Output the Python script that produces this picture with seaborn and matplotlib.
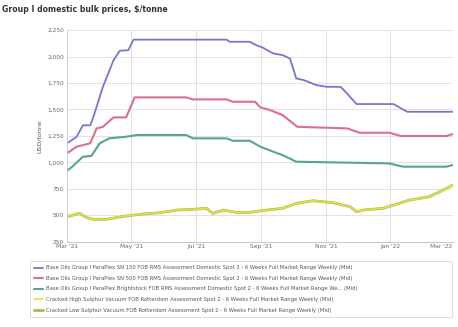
import pandas as pd
import matplotlib.pyplot as plt
import seaborn as sns

# --- Data --- #
sn150_dates = ['2021-03-01', '2021-03-10', '2021-03-16', '2021-03-23', '2021-03-26', '2021-04-04',
               '2021-04-14', '2021-04-20', '2021-04-28', '2021-05-03', '2021-07-30', '2021-08-02',
               '2021-08-21', '2021-08-27', '2021-09-02', '2021-09-12', '2021-09-21', '2021-09-28',
               '2021-10-04', '2021-10-11', '2021-10-23', '2021-11-02', '2021-11-15', '2021-11-21',
               '2021-11-30', '2022-01-04', '2022-01-17', '2022-03-01']
sn150_vals = [1180, 1240, 1350, 1350, 1430, 1715, 1965, 2055, 2060, 2160, 2160, 2140,
              2140, 2108, 2086, 2030, 2014, 1982, 1793, 1778, 1730, 1714, 1714, 1652,
              1551, 1551, 1478, 1478]

sn500_dates = ['2021-03-01', '2021-03-10', '2021-03-23', '2021-03-29', '2021-04-04', '2021-04-14',
               '2021-04-26', '2021-05-04', '2021-06-22', '2021-06-28', '2021-07-30', '2021-08-05',
               '2021-08-26', '2021-08-31', '2021-09-09', '2021-09-21', '2021-10-05', '2021-11-21',
               '2021-12-03', '2021-12-31', '2022-01-11', '2022-02-23', '2022-03-01']
sn500_vals = [1085, 1148, 1180, 1321, 1336, 1425, 1425, 1614, 1614, 1595, 1595, 1573,
              1573, 1520, 1495, 1447, 1336, 1321, 1280, 1280, 1249, 1249, 1267]

bs_dates = ['2021-03-01', '2021-03-06', '2021-03-16', '2021-03-24', '2021-04-01', '2021-04-10',
            '2021-04-26', '2021-05-06', '2021-06-22', '2021-06-28', '2021-07-30', '2021-08-05',
            '2021-08-21', '2021-08-31', '2021-09-12', '2021-09-21', '2021-10-04', '2021-12-31',
            '2022-01-13', '2022-02-23', '2022-03-01']
bs_vals = [921, 959, 1053, 1060, 1180, 1227, 1242, 1258, 1258, 1227, 1227, 1204,
           1204, 1148, 1101, 1069, 1006, 990, 959, 959, 975]

hs_dates = ['2021-03-01', '2021-03-13', '2021-03-19', '2021-03-26', '2021-04-07', '2021-04-26',
            '2021-05-12', '2021-05-28', '2021-06-13', '2021-06-28', '2021-07-11', '2021-07-17',
            '2021-07-27', '2021-08-08', '2021-08-18', '2021-09-06', '2021-09-21', '2021-10-04',
            '2021-10-20', '2021-11-08', '2021-11-24', '2021-11-30', '2021-12-06', '2021-12-25',
            '2022-01-19', '2022-02-07', '2022-02-20', '2022-03-01']
hs_vals = [486, 518, 480, 461, 461, 493, 512, 524, 549, 556, 565, 518,
           549, 527, 524, 549, 565, 612, 637, 618, 580, 533, 549, 565,
           643, 675, 738, 785]

# low sulphur line sits right under the high sulphur one
ls_dates = hs_dates
ls_vals = [486, 518, 480, 461, 461, 493, 512, 524, 549, 556, 565, 518,
           549, 527, 524, 549, 565, 612, 637, 618, 580, 533, 549, 565,
           643, 675, 738, 785]

series_names = [
    'Base Oils Group I ParaPlex SN 150 FOB RMS Assessment Domestic Spot 2 - 6 Weeks Full Market Range Weekly (Mid)',
    'Base Oils Group I ParaPlex SN 500 FOB RMS Assessment Domestic Spot 2 - 6 Weeks Full Market Range Weekly (Mid)',
    'Base Oils Group I ParaPlex Brightstock FOB RMS Assessment Domestic Spot 2 - 6 Weeks Full Market Range We... (Mid)',
    'Cracked High Sulphur Vacuum FOB Rotterdam Assessment Spot 2 - 6 Weeks Full Market Range Weekly (Mid)',
    'Cracked Low Sulphur Vacuum FOB Rotterdam Assessment Spot 2 - 6 Weeks Full Market Range Weekly (Mid)',
]
colors = ['#7476d6', '#d9708e', '#55a58f', '#dfe04c', '#a9bb45']

x_ticks = ['2021-03-01', '2021-05-01', '2021-07-01', '2021-09-01', '2021-11-01', '2022-01-01', '2022-03-01']
x_labels = ["Mar '21", "May '21", "Jul '21", "Sep '21", "Nov '21", "Jan '22", "Mar '22"]
y_ticks = [250, 500, 750, 1000, 1250, 1500, 1750, 2000, 2250]

# --- Build long frame --- #
parts = []
for name, d, v in zip(series_names,
                      [sn150_dates, sn500_dates, bs_dates, hs_dates, ls_dates],
                      [sn150_vals, sn500_vals, bs_vals, hs_vals, ls_vals]):
    parts.append(pd.DataFrame({'date': pd.to_datetime(d), 'price': v, 'series': name}))
df = pd.concat(parts, ignore_index=True)

# --- Plot --- #
sns.set_style('whitegrid')
plt.rcParams['font.family'] = ['DejaVu Sans']

fig = plt.figure(figsize=(4.58, 3.27), dpi=100)
ax = fig.add_axes([0.1463, 0.2609, 0.842, 0.647])

# draw low sulphur first so the yellow one sits on top
order = [0, 1, 2, 4, 3]
widths = {0: 1.3, 1: 1.5, 2: 1.5, 3: 1.2, 4: 2.0}
for i in order:
    sub = df[df['series'] == series_names[i]]
    sns.lineplot(x='date', y='price', data=sub, ax=ax, color=colors[i],
                 linewidth=widths[i], errorbar=None, label=series_names[i], legend=False)

ax.set_xlim(pd.Timestamp('2021-03-01'), pd.Timestamp('2022-03-01'))
ax.set_ylim(250, 2250)
ax.set_xticks(pd.to_datetime(x_ticks))
ax.set_xticklabels(x_labels)
ax.get_xticklabels()[-1].set_ha('right')
ax.set_yticks(y_ticks)
ax.set_yticklabels([f'{t:,}' for t in y_ticks])
ax.tick_params(axis='both', labelsize=4.2, colors='#666666', length=0, pad=2)
ax.set_xlabel('')
ax.set_ylabel('USD/tonne', fontsize=4.5, color='#555555', labelpad=4)
ax.grid(True, color='#dddddd', linewidth=0.6)
for side in ['top', 'right']:
    ax.spines[side].set_visible(False)
ax.spines['left'].set_color('#cccccc')
ax.spines['bottom'].set_color('#bbbbbb')
ax.spines['left'].set_linewidth(0.6)
ax.spines['bottom'].set_linewidth(0.6)

fig.text(0.004, 0.972, 'Group I domestic bulk prices, $/tonne', fontsize=5.6,
         fontweight='bold', color='#333333', va='center', ha='left')

handles, labels = ax.get_legend_handles_labels()
lookup = dict(zip(labels, handles))
leg = fig.legend([lookup[n] for n in series_names], series_names,
                 loc='upper left', bbox_to_anchor=(0.059, 0.022, 0.934, 0.189),
                 mode='expand', fontsize=3.8, frameon=True, handlelength=1.6,
                 labelspacing=1.05, borderpad=0.9, handletextpad=0.6)
leg.get_frame().set_edgecolor('#cccccc')
leg.get_frame().set_linewidth(0.6)
for t in leg.get_texts():
    t.set_color('#555555')

fig.savefig('out.png', dpi=100, facecolor='white')
